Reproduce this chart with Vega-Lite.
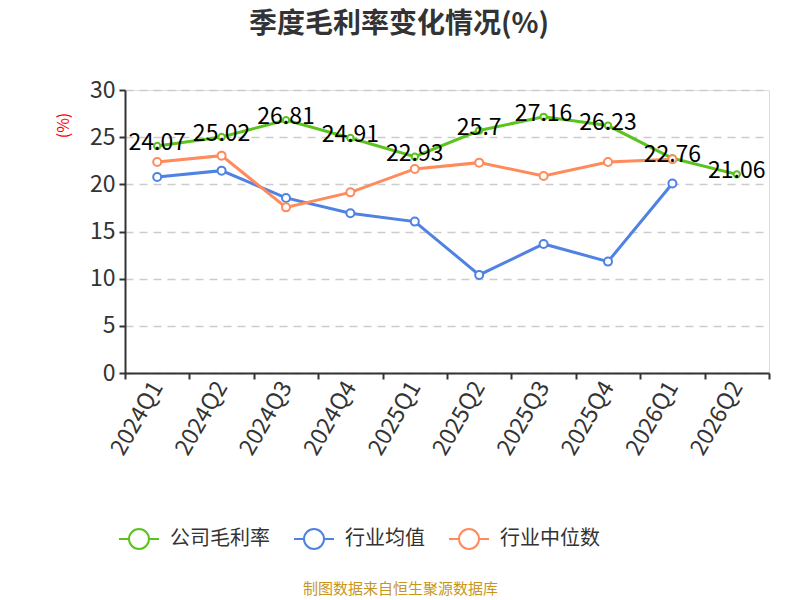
{
  "$schema": "https://vega.github.io/schema/vega-lite/v6.json",
  "autosize": "none",
  "width": 644,
  "height": 283,
  "padding": {"left": 125, "top": 90, "right": 31, "bottom": 227},
  "background": "white",
  "title": {
    "text": "季度毛利率变化情况(%)",
    "fontSize": 28,
    "fontWeight": "bold",
    "font": "Noto Sans CJK SC",
    "color": "#333333",
    "offset": 40,
    "dx": -48
  },
  "data": {
    "values": [
      {"q": "2024Q1", "series": "公司毛利率", "value": 24.07},
      {"q": "2024Q2", "series": "公司毛利率", "value": 25.02},
      {"q": "2024Q3", "series": "公司毛利率", "value": 26.81},
      {"q": "2024Q4", "series": "公司毛利率", "value": 24.91},
      {"q": "2025Q1", "series": "公司毛利率", "value": 22.93},
      {"q": "2025Q2", "series": "公司毛利率", "value": 25.7},
      {"q": "2025Q3", "series": "公司毛利率", "value": 27.16},
      {"q": "2025Q4", "series": "公司毛利率", "value": 26.23},
      {"q": "2026Q1", "series": "公司毛利率", "value": 22.76},
      {"q": "2026Q2", "series": "公司毛利率", "value": 21.06},
      {"q": "2024Q1", "series": "行业均值", "value": 20.78},
      {"q": "2024Q2", "series": "行业均值", "value": 21.45},
      {"q": "2024Q3", "series": "行业均值", "value": 18.56},
      {"q": "2024Q4", "series": "行业均值", "value": 16.93},
      {"q": "2025Q1", "series": "行业均值", "value": 16.05},
      {"q": "2025Q2", "series": "行业均值", "value": 10.4},
      {"q": "2025Q3", "series": "行业均值", "value": 13.68},
      {"q": "2025Q4", "series": "行业均值", "value": 11.81},
      {"q": "2026Q1", "series": "行业均值", "value": 20.08},
      {"q": "2024Q1", "series": "行业中位数", "value": 22.37},
      {"q": "2024Q2", "series": "行业中位数", "value": 23.04},
      {"q": "2024Q3", "series": "行业中位数", "value": 17.56},
      {"q": "2024Q4", "series": "行业中位数", "value": 19.15},
      {"q": "2025Q1", "series": "行业中位数", "value": 21.63},
      {"q": "2025Q2", "series": "行业中位数", "value": 22.3},
      {"q": "2025Q3", "series": "行业中位数", "value": 20.89},
      {"q": "2025Q4", "series": "行业中位数", "value": 22.37},
      {"q": "2026Q1", "series": "行业中位数", "value": 22.65}
    ]
  },
  "encoding": {
    "x": {
      "field": "q",
      "type": "ordinal",
      "scale": {"paddingInner": 0, "paddingOuter": 0},
      "axis": {
        "title": "制图数据来自恒生聚源数据库",
        "titleColor": "#c8961e",
        "titleFontSize": 15,
        "titleFontWeight": "normal",
        "titleFont": "Noto Sans CJK SC",
        "titleX": 275,
        "titleY": 215,
        "titleBaseline": "middle",
        "labelAngle": -60,
        "labelFontSize": 23,
        "labelColor": "#333333",
        "labelFont": "Noto Sans CJK SC",
        "labelPadding": 4,
        "tickBand": "extent",
        "tickSize": 6,
        "tickColor": "#333333",
        "tickWidth": 2,
        "domainColor": "#333333",
        "domainWidth": 2,
        "grid": false
      }
    },
    "y": {
      "field": "value",
      "type": "quantitative",
      "scale": {"domain": [0, 30], "nice": false},
      "axis": {
        "title": "(%)",
        "titleColor": "red",
        "titleFontSize": 16,
        "titleFontWeight": "normal",
        "titleFont": "Noto Sans CJK SC",
        "titleX": -62,
        "titleY": 35,
        "titleAlign": "center",
        "titleBaseline": "middle",
        "values": [0, 5, 10, 15, 20, 25, 30],
        "labelFontSize": 23,
        "labelColor": "#333333",
        "labelFont": "Noto Sans CJK SC",
        "labelPadding": 4,
        "tickSize": 6,
        "tickColor": "#333333",
        "tickWidth": 2,
        "domainColor": "#333333",
        "domainWidth": 2,
        "gridColor": "#cccccc",
        "gridDash": [8, 6],
        "gridWidth": 1.5
      }
    },
    "color": {
      "field": "series",
      "type": "nominal",
      "sort": ["公司毛利率", "行业均值", "行业中位数"],
      "scale": {
        "domain": ["公司毛利率", "行业均值", "行业中位数"],
        "range": ["#5ac31e", "#4f82e2", "#ff8a5b"]
      },
      "legend": {
        "title": null,
        "orient": "none",
        "direction": "horizontal",
        "legendX": -7,
        "legendY": 428,
        "symbolType": "M-1,0L-0.5,0M0.5,0L1,0M-0.5,0A0.5,0.5,0,1,1,0.5,0A0.5,0.5,0,1,1,-0.5,0Z",
        "symbolSize": 1600,
        "symbolStrokeWidth": 2,
        "symbolFillColor": "white",
        "labelFontSize": 20,
        "labelColor": "#333333",
        "labelFont": "Noto Sans CJK SC",
        "labelOffset": 10,
        "columnPadding": 20
      }
    }
  },
  "layer": [
    {
      "mark": {"type": "line", "strokeWidth": 3}
    },
    {
      "mark": {"type": "point", "shape": "circle", "filled": true, "strokeWidth": 2, "opacity": 1},
      "encoding": {
        "color": {"value": "white"},
        "stroke": {"field": "series", "type": "nominal", "legend": null, "scale": {"domain": ["公司毛利率", "行业均值", "行业中位数"], "range": ["#5ac31e", "#4f82e2", "#ff8a5b"]}},
        "size": {"condition": {"test": "datum.series === '公司毛利率'", "value": 40}, "value": 64}
      }
    },
    {
      "transform": [{"filter": "datum.series === '公司毛利率'"}],
      "mark": {"type": "text", "fontSize": 23, "font": "Noto Sans CJK SC", "color": "black", "baseline": "middle", "dy": -3},
      "encoding": {
        "text": {"field": "value", "type": "quantitative"},
        "color": {"value": "black"}
      }
    }
  ]
}
